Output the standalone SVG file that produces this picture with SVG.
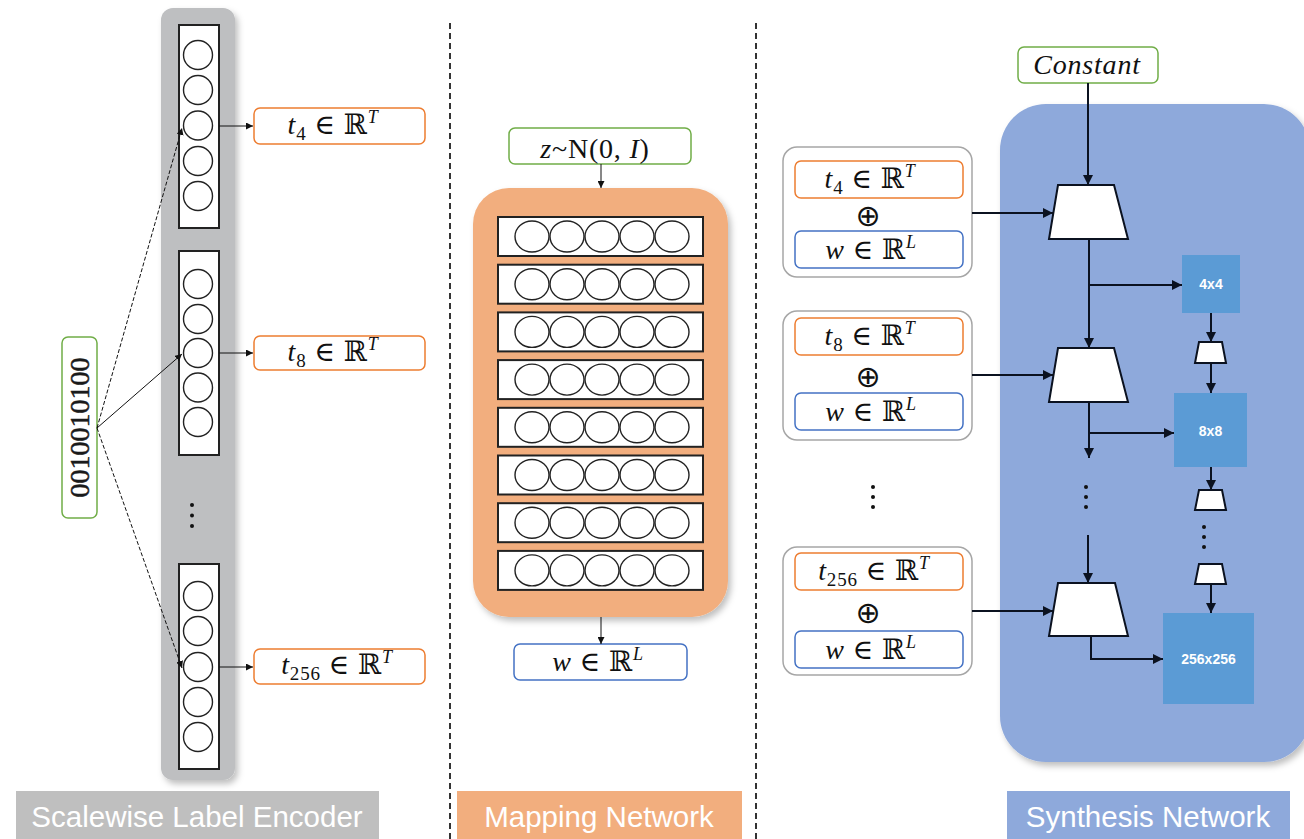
<svg xmlns="http://www.w3.org/2000/svg" width="1304" height="839" viewBox="0 0 1304 839">
  <defs>
    <filter id="shadow" x="-10%" y="-10%" width="130%" height="130%">
      <feDropShadow dx="3" dy="4" stdDeviation="3" flood-color="#000" flood-opacity="0.25"/>
    </filter>
    <marker id="arr" viewBox="0 0 10 10" refX="10" refY="5" markerWidth="7" markerHeight="7" markerUnits="userSpaceOnUse" orient="auto">
      <path d="M0,0 L10,5 L0,10 z" fill="#111"/>
    </marker>
    <marker id="arrB" viewBox="0 0 10 10" refX="10" refY="5" markerWidth="10" markerHeight="10" markerUnits="userSpaceOnUse" orient="auto">
      <path d="M0,0 L10,5 L0,10 z" fill="#0b1220"/>
    </marker>
  </defs>
  <style>
    .math { font-family: "Liberation Serif", "DejaVu Serif", serif; font-size: 28px; letter-spacing: 0.8px; fill: #111; }
    .it { font-style: italic; }
    .sub { font-size: 19px; }
    .sup { font-size: 18px; font-style: italic; }
    .oplus { font-family: "DejaVu Sans", sans-serif; font-size: 30px; fill: #111; text-anchor: middle; }
    .tbox { fill: #fff; stroke: #ED7D31; stroke-width: 1.5; }
    .wbox { fill: #fff; stroke: #4472C4; stroke-width: 1.5; }
    .gbox { fill: #fff; stroke: #70AD47; stroke-width: 1.5; }
    .grp { fill: #fff; stroke: #A6A6A6; stroke-width: 1.5; }
    .cell { fill: #fff; stroke: #222; stroke-width: 2; }
    .neuron { fill: #fff; stroke: #222; stroke-width: 1.4; }
    .thin { stroke: #111; stroke-width: 1; fill: none; }
    .bold { stroke: #0b1220; stroke-width: 2; fill: none; }
    .trap { fill: #fff; stroke: #0b1220; stroke-width: 2; }
    .res { fill: #5B9BD5; }
    .restxt { font-family: "Liberation Sans", Arial, sans-serif; font-size: 14px; font-weight: bold; fill: #fff; text-anchor: middle; }
    .caption { font-family: "Liberation Sans", Arial, sans-serif; font-size: 29.5px; fill: #fff; text-anchor: middle; }
    .divider { stroke: #333; stroke-width: 2; stroke-dasharray: 6 4; }
    .dot { fill: #111; }
  </style>

  <!-- panel dividers -->
  <line class="divider" x1="450" y1="23" x2="450" y2="839"/>
  <line class="divider" x1="756" y1="23" x2="756" y2="839"/>

  <!-- ===== Scalewise label encoder ===== -->
  <g id="encoder-bar">
    <rect x="161" y="8" width="74" height="772" rx="12" fill="#BEBFC1" filter="url(#shadow)"/>
    <circle class="dot" cx="192" cy="505" r="2"/>
    <circle class="dot" cx="192" cy="515.5" r="2"/>
    <circle class="dot" cx="192" cy="526" r="2"/>
  </g>

  <g id="encoder-block-4">
    <rect class="cell" x="179" y="25" width="40" height="203"/>
    <circle class="neuron" cx="198" cy="55" r="14.5"/>
    <circle class="neuron" cx="198" cy="90" r="14.5"/>
    <circle class="neuron" cx="198" cy="125.5" r="14.5"/>
    <circle class="neuron" cx="198" cy="161" r="14.5"/>
    <circle class="neuron" cx="198" cy="196" r="14.5"/>
  </g>
  <g id="encoder-block-8">
    <rect class="cell" x="179" y="251" width="40" height="204"/>
    <circle class="neuron" cx="198" cy="284" r="14.5"/>
    <circle class="neuron" cx="198" cy="319" r="14.5"/>
    <circle class="neuron" cx="198" cy="353" r="14.5"/>
    <circle class="neuron" cx="198" cy="387.5" r="14.5"/>
    <circle class="neuron" cx="198" cy="422" r="14.5"/>
  </g>
  <g id="encoder-block-256">
    <rect class="cell" x="179" y="564" width="40" height="205"/>
    <circle class="neuron" cx="198" cy="596" r="14.5"/>
    <circle class="neuron" cx="198" cy="631" r="14.5"/>
    <circle class="neuron" cx="198" cy="667" r="14.5"/>
    <circle class="neuron" cx="198" cy="702" r="14.5"/>
    <circle class="neuron" cx="198" cy="737" r="14.5"/>
  </g>

  <g id="label-code">
    <rect class="gbox" x="62" y="337" width="35" height="181" rx="6"/>
    <text x="79.5" y="427.5" transform="rotate(-90 79.5 427.5)" font-family="Liberation Serif, DejaVu Serif, serif" font-size="28" fill="#1a1a1a" stroke="#1a1a1a" stroke-width="0.5" text-anchor="middle" dominant-baseline="central">0010010100</text>
  </g>

  <g id="enc-out-4">
    <rect class="tbox" x="254" y="108" width="171" height="36" rx="6"/>
    <text class="math" x="333" y="134" text-anchor="middle"><tspan class="it">t</tspan><tspan class="sub" dy="6">4</tspan><tspan dy="-6"> ∈ ℝ</tspan><tspan class="sup" dy="-11">T</tspan></text>
  </g>
  <g id="enc-out-8">
    <rect class="tbox" x="254" y="336" width="171" height="34" rx="6"/>
    <text class="math" x="333" y="361" text-anchor="middle"><tspan class="it">t</tspan><tspan class="sub" dy="6">8</tspan><tspan dy="-6"> ∈ ℝ</tspan><tspan class="sup" dy="-11">T</tspan></text>
  </g>
  <g id="enc-out-256">
    <rect class="tbox" x="254" y="649" width="171" height="35" rx="6"/>
    <text class="math" x="337" y="674" text-anchor="middle"><tspan class="it">t</tspan><tspan class="sub" dy="6">256</tspan><tspan dy="-6"> ∈ ℝ</tspan><tspan class="sup" dy="-11">T</tspan></text>
  </g>

  <!-- ===== Mapping network ===== -->
  <g id="noise-input">
    <rect class="gbox" x="509" y="128" width="182" height="36" rx="6"/>
    <text class="math" x="595" y="158" text-anchor="middle" letter-spacing="1.5"><tspan class="it">z</tspan>~N(0, <tspan class="it">I</tspan>)</text>
  </g>

  <g id="mapping-mlp">
    <rect x="473" y="188" width="255" height="429" rx="36" fill="#F2AE7E" filter="url(#shadow)"/>
    <g id="fc-layers">
      <rect class="cell" x="498" y="217" width="205" height="39"/>
      <rect class="cell" x="498" y="264.7" width="205" height="39"/>
      <rect class="cell" x="498" y="312.4" width="205" height="39"/>
      <rect class="cell" x="498" y="360.1" width="205" height="39"/>
      <rect class="cell" x="498" y="407.8" width="205" height="39"/>
      <rect class="cell" x="498" y="455.5" width="205" height="39"/>
      <rect class="cell" x="498" y="503.2" width="205" height="39"/>
      <rect class="cell" x="498" y="550.9" width="205" height="39"/>
    </g>
    <g id="fc-units">
      <g id="u0"><ellipse class="neuron" cx="532" cy="236.5" rx="17" ry="15.5"/><ellipse class="neuron" cx="567" cy="236.5" rx="17" ry="15.5"/><ellipse class="neuron" cx="602" cy="236.5" rx="17" ry="15.5"/><ellipse class="neuron" cx="637" cy="236.5" rx="17" ry="15.5"/><ellipse class="neuron" cx="672" cy="236.5" rx="17" ry="15.5"/></g>
      <use href="#u0" y="47.7"/>
      <use href="#u0" y="95.4"/>
      <use href="#u0" y="143.1"/>
      <use href="#u0" y="190.8"/>
      <use href="#u0" y="238.5"/>
      <use href="#u0" y="286.2"/>
      <use href="#u0" y="333.9"/>
    </g>
  </g>

  <g id="style-code">
    <rect class="wbox" x="514" y="644" width="173" height="36" rx="6"/>
    <text class="math" x="598" y="671" text-anchor="middle"><tspan class="it">w</tspan> ∈ ℝ<tspan class="sup" dy="-11">L</tspan></text>
  </g>

  <!-- ===== Synthesis network ===== -->
  <g id="synthesis-body">
    <rect x="1000" y="104" width="310" height="658" rx="46" fill="#8EA9DB" filter="url(#shadow)"/>
  </g>

  <g id="constant-input">
    <rect class="gbox" x="1018" y="47" width="140" height="36" rx="6"/>
    <text class="math it" x="1087" y="74" text-anchor="middle" font-size="29" letter-spacing="1.5">Constant</text>
  </g>

  <g id="cond-4">
    <rect class="grp" x="783" y="147" width="189" height="130" rx="14"/>
    <rect class="tbox" x="795" y="161" width="168" height="37" rx="6"/>
    <text class="math" x="870" y="188" text-anchor="middle"><tspan class="it">t</tspan><tspan class="sub" dy="6">4</tspan><tspan dy="-6"> ∈ ℝ</tspan><tspan class="sup" dy="-11">T</tspan></text>
    <text class="oplus" x="868" y="226">⊕</text>
    <rect class="wbox" x="795" y="231" width="168" height="37" rx="6"/>
    <text class="math" x="871" y="259" text-anchor="middle"><tspan class="it">w</tspan> ∈ ℝ<tspan class="sup" dy="-11">L</tspan></text>
  </g>
  <g id="cond-8">
    <rect class="grp" x="783" y="311" width="189" height="129" rx="14"/>
    <rect class="tbox" x="795" y="318" width="168" height="37" rx="6"/>
    <text class="math" x="870" y="345" text-anchor="middle"><tspan class="it">t</tspan><tspan class="sub" dy="6">8</tspan><tspan dy="-6"> ∈ ℝ</tspan><tspan class="sup" dy="-11">T</tspan></text>
    <text class="oplus" x="868" y="387">⊕</text>
    <rect class="wbox" x="795" y="393" width="168" height="37" rx="6"/>
    <text class="math" x="871" y="421" text-anchor="middle"><tspan class="it">w</tspan> ∈ ℝ<tspan class="sup" dy="-11">L</tspan></text>
  </g>
  <g id="cond-dots">
    <circle class="dot" cx="873" cy="487" r="2"/>
    <circle class="dot" cx="873" cy="497" r="2"/>
    <circle class="dot" cx="873" cy="507" r="2"/>
  </g>
  <g id="cond-256">
    <rect class="grp" x="783" y="547" width="189" height="128" rx="14"/>
    <rect class="tbox" x="795" y="553" width="168" height="37" rx="6"/>
    <text class="math" x="874" y="580" text-anchor="middle"><tspan class="it">t</tspan><tspan class="sub" dy="6">256</tspan><tspan dy="-6"> ∈ ℝ</tspan><tspan class="sup" dy="-11">T</tspan></text>
    <text class="oplus" x="868" y="623">⊕</text>
    <rect class="wbox" x="795" y="631" width="168" height="37" rx="6"/>
    <text class="math" x="871" y="659" text-anchor="middle"><tspan class="it">w</tspan> ∈ ℝ<tspan class="sup" dy="-11">L</tspan></text>
  </g>

  <g id="synth-block-1"><polygon class="trap" points="1058,185 1114,185 1128,239 1049,239"/></g>
  <g id="synth-block-2"><polygon class="trap" points="1058,348 1114,348 1128,402 1049,402"/></g>
  <g id="synth-block-3"><polygon class="trap" points="1058,583 1115,583 1128,636 1049,636"/></g>
  <g id="synth-dots">
    <circle class="dot" cx="1086" cy="487" r="2"/>
    <circle class="dot" cx="1086" cy="497" r="2"/>
    <circle class="dot" cx="1086" cy="507" r="2"/>
  </g>

  <g id="out-4x4">
    <rect class="res" x="1182" y="255" width="58" height="58"/>
    <text class="restxt" x="1211" y="289">4x4</text>
  </g>
  <g id="up-1"><polygon class="trap" points="1199,342 1222,342 1226,363 1195,363"/></g>
  <g id="out-8x8">
    <rect class="res" x="1174" y="393" width="73" height="74"/>
    <text class="restxt" x="1210.5" y="436">8x8</text>
  </g>
  <g id="up-2"><polygon class="trap" points="1199,490 1222,490 1226,510 1195,510"/></g>
  <g id="up-dots">
    <circle class="dot" cx="1204" cy="527" r="2"/>
    <circle class="dot" cx="1204" cy="537" r="2"/>
    <circle class="dot" cx="1204" cy="547" r="2"/>
  </g>
  <g id="up-3"><polygon class="trap" points="1199,564 1222,564 1226,584 1195,584"/></g>
  <g id="out-256x256">
    <rect class="res" x="1163" y="613" width="91" height="91"/>
    <text class="restxt" x="1208.5" y="664">256x256</text>
  </g>

  <!-- bottom captions -->
  <g id="caption-encoder">
    <rect x="16" y="791" width="363" height="48" fill="#BFBFBF"/>
    <text class="caption" x="197" y="827">Scalewise Label Encoder</text>
  </g>
  <g id="caption-mapping">
    <rect x="457" y="791" width="285" height="48" fill="#F2AE7E"/>
    <text class="caption" x="599" y="827">Mapping Network</text>
  </g>
  <g id="caption-synthesis">
    <rect x="1007" y="791" width="283" height="48" fill="#8EA9DB"/>
    <text class="caption" x="1148" y="827">Synthesis Network</text>
  </g>

  <!-- connectors -->
  <g id="connectors">
    <line class="thin" x1="97" y1="428" x2="182" y2="128" stroke-dasharray="4 2" marker-end="url(#arr)"/>
    <line class="thin" x1="97" y1="428" x2="182" y2="354" marker-end="url(#arr)"/>
    <line class="thin" x1="97" y1="428" x2="182" y2="668" stroke-dasharray="4 2" marker-end="url(#arr)"/>
    <line class="thin" x1="219" y1="126" x2="253" y2="126" marker-end="url(#arr)"/>
    <line class="thin" x1="219" y1="353" x2="253" y2="353" marker-end="url(#arr)"/>
    <line class="thin" x1="219" y1="667" x2="253" y2="667" marker-end="url(#arr)"/>

    <line class="thin" x1="601" y1="164" x2="601" y2="188" marker-end="url(#arr)"/>
    <line class="thin" x1="601" y1="617" x2="601" y2="644" marker-end="url(#arr)"/>

    <line class="bold" x1="1088" y1="83" x2="1088" y2="185" marker-end="url(#arrB)"/>
    <line class="bold" x1="972" y1="213" x2="1053" y2="213" marker-end="url(#arrB)"/>
    <line class="bold" x1="1089" y1="239" x2="1089" y2="348" marker-end="url(#arrB)"/>
    <line class="bold" x1="1089" y1="285" x2="1182" y2="285" marker-end="url(#arrB)"/>
    <line class="bold" x1="972" y1="375" x2="1053" y2="375" marker-end="url(#arrB)"/>
    <line class="bold" x1="1089" y1="402" x2="1089" y2="458" marker-end="url(#arrB)"/>
    <line class="bold" x1="1089" y1="433" x2="1174" y2="433" marker-end="url(#arrB)"/>
    <line class="bold" x1="1088" y1="535" x2="1088" y2="583" marker-end="url(#arrB)"/>
    <line class="bold" x1="972" y1="611" x2="1053" y2="611" marker-end="url(#arrB)"/>
    <polyline class="bold" points="1091,636 1091,659 1163,659" marker-end="url(#arrB)"/>

    <line class="bold" x1="1211" y1="313" x2="1211" y2="342" marker-end="url(#arrB)"/>
    <line class="bold" x1="1211" y1="363" x2="1211" y2="393" marker-end="url(#arrB)"/>
    <line class="bold" x1="1211" y1="467" x2="1211" y2="490" marker-end="url(#arrB)"/>
    <line class="bold" x1="1211" y1="584" x2="1211" y2="613" marker-end="url(#arrB)"/>
  </g>
</svg>
